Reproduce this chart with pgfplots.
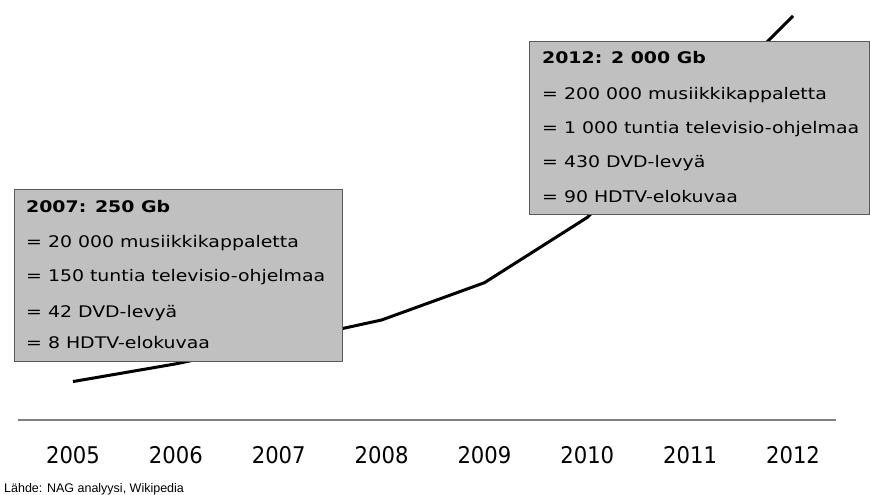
\documentclass[border=0pt]{standalone}
\usepackage{pgfplots}
\pgfplotsset{compat=1.18}
\usepackage{fontspec}
\newfontfamily\boxfont[FakeStretch=1.18]{DejaVu Sans}
\newfontfamily\yearfont[FakeStretch=0.92]{DejaVu Sans}
\newfontfamily\srcfont{Liberation Sans}
\definecolor{boxfill}{RGB}{192,192,192}
\definecolor{boxdraw}{RGB}{90,90,90}
\definecolor{basegray}{RGB}{128,128,128}
\begin{document}
\begin{tikzpicture}
\begin{axis}[
  scale only axis, width=870pt, height=495pt,
  xmin=2004.2903, xmax=2012.7486,
  ymin=-568.2, ymax=2085.8,
  hide y axis,
  axis x line*=bottom,
  x axis line style={draw=none},
  xtick={2005,2006,2007,2008,2009,2010,2011,2012},
  xticklabels={2005,2006,2007,2008,2009,2010,2011,2012},
  major tick length=0pt,
  xticklabel style={font=\yearfont\fontsize{23}{23}\selectfont, anchor=base, yshift=31pt, inner sep=0pt},
  clip=false,
]
% baseline
\draw[basegray, line width=2pt] (rel axis cs:0.020690,0.151515) -- (rel axis cs:0.960920,0.151515);
% data (Gb)
\addplot[black, line width=3pt] coordinates {
  (2005,40) (2006,135) (2007,250) (2008,370) (2009,570) (2010,920) (2011,1450) (2012,2000)
};
% box 1
\draw[boxdraw, fill=boxfill, line width=1pt] (rel axis cs:0.016092,0.616162) rectangle (rel axis cs:0.393103,0.268687);
\node[anchor=base west, inner sep=0pt, font=\boxfont\fontsize{16}{16}\selectfont\bfseries] at (rel axis cs:0.029885,0.569697) {2007: 250 Gb};
\node[anchor=base west, inner sep=0pt, font=\boxfont\fontsize{16}{16}\selectfont] at (rel axis cs:0.029885,0.498990) {= 20 000 musiikkikappaletta};
\node[anchor=base west, inner sep=0pt, font=\boxfont\fontsize{16}{16}\selectfont] at (rel axis cs:0.029885,0.430303) {= 150 tuntia televisio-ohjelmaa};
\node[anchor=base west, inner sep=0pt, font=\boxfont\fontsize{16}{16}\selectfont] at (rel axis cs:0.029885,0.359596) {= 42 DVD-levyä};
\node[anchor=base west, inner sep=0pt, font=\boxfont\fontsize{16}{16}\selectfont] at (rel axis cs:0.029885,0.294949) {= 8 HDTV-elokuvaa};
% box 2
\draw[boxdraw, fill=boxfill, line width=1pt] (rel axis cs:0.608046,0.915152) rectangle (rel axis cs:0.998851,0.565657);
\node[anchor=base west, inner sep=0pt, font=\boxfont\fontsize{16}{16}\selectfont\bfseries] at (rel axis cs:0.622989,0.870707) {2012: 2 000 Gb};
\node[anchor=base west, inner sep=0pt, font=\boxfont\fontsize{16}{16}\selectfont] at (rel axis cs:0.622989,0.797980) {= 200 000 musiikkikappaletta};
\node[anchor=base west, inner sep=0pt, font=\boxfont\fontsize{16}{16}\selectfont] at (rel axis cs:0.622989,0.729293) {= 1 000 tuntia televisio-ohjelmaa};
\node[anchor=base west, inner sep=0pt, font=\boxfont\fontsize{16}{16}\selectfont] at (rel axis cs:0.622989,0.660606) {= 430 DVD-levyä};
\node[anchor=base west, inner sep=0pt, font=\boxfont\fontsize{16}{16}\selectfont] at (rel axis cs:0.622989,0.589899) {= 90 HDTV-elokuvaa};
% source
\node[anchor=base west, inner sep=0pt, font=\srcfont\fontsize{12.5}{12.5}\selectfont] at (rel axis cs:0.004598,0.006061) {Lähde: NAG analyysi, Wikipedia};
\end{axis}
\pgfresetboundingbox
\path[use as bounding box] (current axis.south west) rectangle (current axis.north east);
\end{tikzpicture}
\end{document}
